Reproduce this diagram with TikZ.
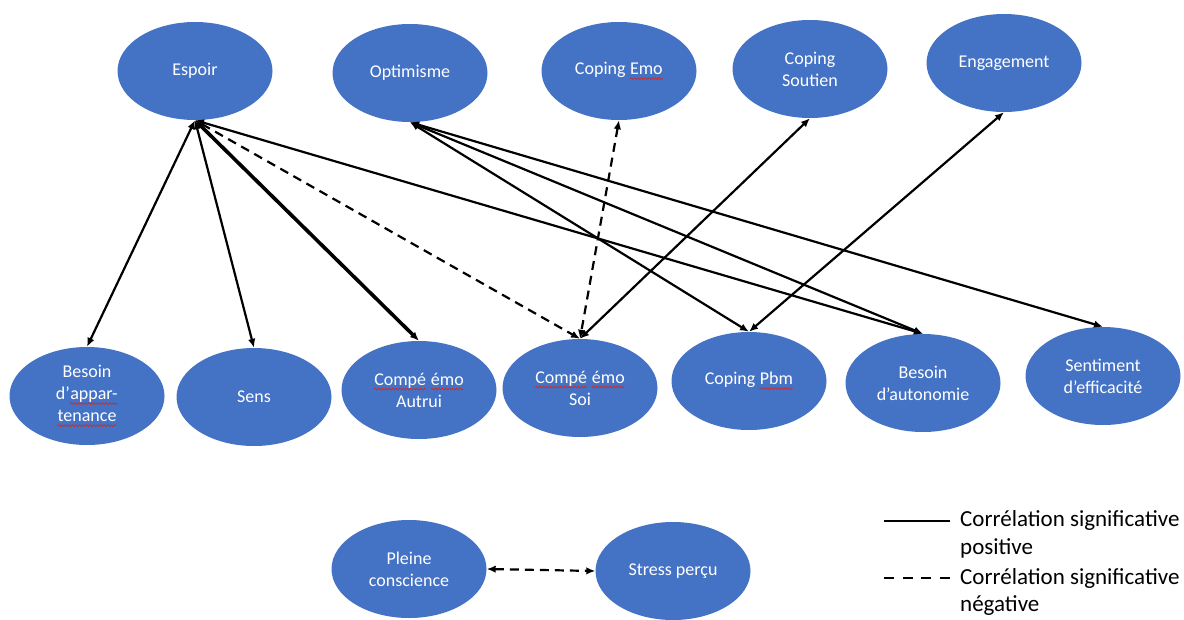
\documentclass[tikz,border=0pt]{standalone}
\usepackage{fontspec}
\setmainfont{Carlito}
\usetikzlibrary{arrows.meta,shapes.geometric,decorations.pathmorphing}
\definecolor{nodeblue}{HTML}{4472C4}
\definecolor{spellred}{HTML}{D9261C}
\newcommand\spellerr[1]{\tikz[baseline=(sp.base)]{\node[shape=rectangle,fill=none,draw=none,minimum width=0pt,minimum height=0pt,
    inner sep=0pt,outer sep=0pt,align=none,text=white] (sp) {#1};
  \draw[spellred,line width=0.7pt,decorate,decoration={snake,amplitude=0.9pt,segment length=3.5pt}] ([yshift=-4pt]sp.base west)--([yshift=-4pt]sp.base east);}}

\begin{document}
\begin{tikzpicture}[x=1pt,y=-1pt,every node/.style={font=\fontsize{18}{22}\selectfont},
          var/.style={ellipse,fill=nodeblue,text=white,align=center,inner sep=0pt,minimum width=155pt,minimum height=98pt},
          corr/.style={{Latex[length=9pt,width=7.5pt]}-{Latex[length=9pt,width=7.5pt]},line width=2.2pt},
          neg/.style={corr,dash pattern=on 9pt off 6pt},
          strong/.style={corr,line width=3.6pt},
          legtext/.style={anchor=west,align=left,inner sep=0pt,font=\fontsize{23}{27.5}\selectfont}]
        \useasboundingbox (0,0) rectangle (1184,619);
        \node[var] (espoir) at (195,71) {Espoir};
        \node[var] (optim) at (410,73) {Optimisme};
        \node[var] (copemo) at (619,71) {Coping \spellerr{Emo}};
        \node[var] (copsout) at (810,69) {Coping\\Soutien};
        \node[var] (engag) at (1004,63) {Engagement};
        \node[var] (bapp) at (87,396) {Besoin\\d’\spellerr{appar-}\\\spellerr{tenance}};
        \node[var] (sens) at (254,397) {Sens};
        \node[var] (autrui) at (419,390) {\spellerr{Compé} \spellerr{émo}\\Autrui};
        \node[var] (soi) at (580,388) {\spellerr{Compé} \spellerr{émo}\\Soi};
        \node[var] (coppbm) at (749,381) {Coping \spellerr{Pbm}};
        \node[var] (bauto) at (923,383) {Besoin\\d’autonomie};
        \node[var] (effic) at (1103,376) {Sentiment\\d’efficacité};
        \node[var] (pleine) at (409,569) {Pleine\\conscience};
        \node[var] (stress) at (673,571) {Stress perçu};
        \draw[corr] (espoir.south)--(bapp.north);
        \draw[corr] (espoir.south)--(sens.north);
        \draw[strong] (espoir.south)--(autrui.north);
        \draw[neg] (espoir.south)--(soi.north);
        \draw[corr] (espoir.south)--(bauto.north);
        \draw[corr] (optim.south)--(coppbm.north);
        \draw[corr] (optim.south)--(bauto.north);
        \draw[corr] (optim.south)--(effic.north);
        \draw[neg] (copemo.south)--(soi.north);
        \draw[corr] (copsout.south)--(soi.north);
        \draw[corr] (engag.south)--(coppbm.north);
        \draw[neg] (pleine.east)--(stress.west);
        \coordinate (pos-a) at (884,521); \coordinate (pos-b) at (950,521);
        \coordinate (neg-a) at (884,578); \coordinate (neg-b) at (950,578);
        \draw[line width=2.2pt] (pos-a)--(pos-b);
        \draw[line width=2.2pt,dash pattern=on 10pt off 8.5pt] (neg-a)--(neg-b);
        \node[legtext] (legpos) at (960,534.5) {Corrélation significative\\positive};
        \node[legtext] (legneg) at (960,592) {Corrélation significative\\négative};
      \end{tikzpicture}
\end{document}
